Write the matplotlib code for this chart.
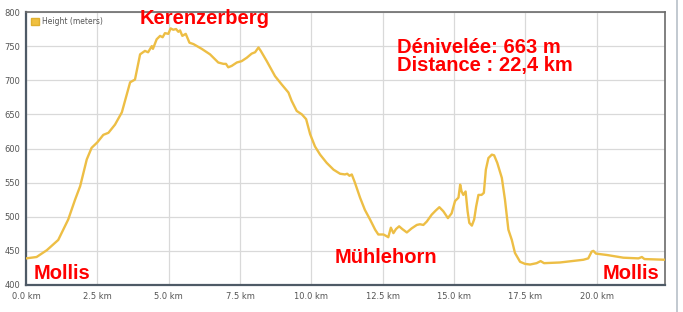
import matplotlib
matplotlib.use("Agg")
import matplotlib.pyplot as plt
import matplotlib.patches as mpatches
from matplotlib.lines import Line2D

# elevation profile
dist_km = [0.0, 0.37, 0.73, 1.13, 1.48, 1.72, 1.9, 2.13, 2.3, 2.5, 2.71, 2.89, 3.12, 3.36,
           3.65, 3.82, 4.0, 4.17, 4.28, 4.41, 4.45, 4.58, 4.7, 4.79, 4.87, 4.99, 5.07, 5.16,
           5.26, 5.34, 5.4, 5.48, 5.6, 5.73, 5.87, 6.16, 6.45, 6.74, 6.92, 7.01, 7.09, 7.21,
           7.39, 7.56, 7.74, 7.91, 8.03, 8.15, 8.23, 8.44, 8.73, 8.96, 9.2, 9.31, 9.49, 9.67,
           9.82, 9.96, 10.13, 10.31, 10.54, 10.78, 11.01, 11.18, 11.26, 11.34, 11.42, 11.53,
           11.71, 11.88, 12.06, 12.24, 12.35, 12.53, 12.62, 12.7, 12.79, 12.88, 12.97, 13.08,
           13.19, 13.35, 13.52, 13.7, 13.81, 13.93, 14.05, 14.22, 14.36, 14.49, 14.63, 14.79,
           14.92, 15.04, 15.16, 15.22, 15.27, 15.33, 15.41, 15.48, 15.54, 15.63, 15.71, 15.78,
           15.86, 15.97, 16.05, 16.12, 16.21, 16.33, 16.41, 16.52, 16.68, 16.79, 16.91, 17.03,
           17.14, 17.32, 17.49, 17.67, 17.9, 18.04, 18.16, 18.72, 19.54, 19.71, 19.83, 19.89,
           19.98, 20.36, 20.94, 21.47, 21.59, 21.68, 22.4]
height_m = [439, 441, 451, 466, 496, 525, 545, 584, 601, 609, 620, 623, 635, 653,
            697, 701, 738, 743, 741, 750, 746, 760, 765, 763, 769, 768, 776, 774,
            775, 771, 773, 765, 768, 755, 753, 746, 738, 726, 724, 724, 719, 721,
            726, 728, 733, 739, 741, 748, 743, 728, 706, 694, 682, 670, 655, 650,
            643, 621, 603, 591, 579, 569, 563, 562, 563, 560, 562, 550,
            528, 510, 496, 481, 474, 474, 472, 470, 484, 476, 482, 486,
            482, 477, 483, 488, 489, 488, 493, 503, 509, 514, 508, 498,
            505, 523, 528, 547, 537, 532, 537, 508, 491, 487, 496, 515,
            532, 532, 535, 569, 586, 591, 590, 579, 557, 525, 481, 466,
            447, 434, 431, 430, 432, 435, 432, 433, 437, 439, 449, 450,
            446, 444, 440, 439, 441, 438, 437]

x_ticks = [0.0, 2.5, 5.0, 7.5, 10.0, 12.5, 15.0, 17.5, 20.0]
y_ticks = [400, 450, 500, 550, 600, 650, 700, 750, 800]

places = ["Mollis", "Kerenzerberg", "Mühlehorn", "Mollis"]
place_xy = [(0.25, 417), (3.97, 790), (10.83, 441), (20.22, 417)]
stats_text = "Dénivelée: 663 m\nDistance : 22,4 km"

fig = plt.figure(figsize=(6.83, 3.12), dpi=100)
ax = fig.add_axes([26 / 683, 27 / 312, 639 / 683, 273 / 312])

ax.plot(dist_km, height_m, color="#EDBE45", lw=1.7, solid_joinstyle="round", zorder=3)

ax.set_xlim(0, 22.4)
ax.set_ylim(400, 800)
ax.set_xticks(x_ticks)
ax.set_xticklabels([f"{v:.1f} km" for v in x_ticks])
ax.set_yticks(y_ticks)
ax.grid(True, color="#D9D9D9", lw=0.9)
ax.set_axisbelow(True)
ax.tick_params(axis="both", labelsize=6, colors="#555555", length=0, pad=5)
ax.tick_params(axis="y", pad=4)
for side in ["left", "bottom"]:
    ax.spines[side].set_color("#4E5A66")
    ax.spines[side].set_linewidth(1.6)
for side in ["top", "right"]:
    ax.spines[side].set_color("#6B6B6B")
    ax.spines[side].set_linewidth(1.2)

for name, (px, py) in zip(places, place_xy):
    ax.text(px, py, name, color="red", fontsize=14.5, fontweight="bold",
            family="Liberation Sans", ha="left", va="center", zorder=4)
ax.text(13.0, 735, stats_text, color="red", fontsize=14.5, fontweight="bold",
        family="Liberation Sans", ha="left", va="center", linespacing=0.95, zorder=4)

handle = mpatches.Patch(facecolor="#F0C040", edgecolor="#E0B030", label="Height (meters)")
leg = ax.legend(handles=[handle], loc="upper left", fontsize=5.5, frameon=False,
                handlelength=1.0, handleheight=1.0, borderaxespad=0.3, handletextpad=0.4)
for t in leg.get_texts():
    t.set_color("#555555")

fig.add_artist(Line2D([677 / 683, 677 / 683], [0, 1], color="#B8C0C8", lw=1.2))

fig.savefig("out.png", dpi=100)
